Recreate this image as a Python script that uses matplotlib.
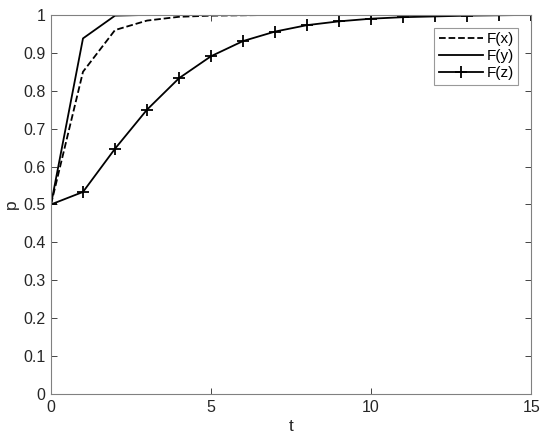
import matplotlib.pyplot as plt

plt.rcParams['font.family'] = ['Liberation Sans', 'DejaVu Sans']

# datos
t = list(range(16))
fx = [0.5, 0.85, 0.96, 0.985, 0.995, 0.998, 0.999, 1.0, 1.0, 1.0, 1.0, 1.0, 1.0, 1.0, 1.0, 1.0]
fy = [0.5, 0.938, 0.998, 1.0, 1.0, 1.0, 1.0, 1.0, 1.0, 1.0, 1.0, 1.0, 1.0, 1.0, 1.0, 1.0]
fz = [0.5, 0.533, 0.647, 0.75, 0.833, 0.891, 0.931, 0.956, 0.973, 0.983, 0.99, 0.994, 0.996, 0.998, 0.999, 1.0]

fig = plt.figure(figsize=(5.5, 4.46), dpi=100)
ax = fig.add_axes([0.0927, 0.1166, 0.873, 0.850])

ax.plot(t, fx, color='black', linestyle='--', linewidth=1.3, label='F(x)')
ax.plot(t, fy, color='black', linestyle='-', linewidth=1.3, label='F(y)')
ax.plot(t, fz, color='black', linestyle='-', linewidth=1.3, marker='+',
        markersize=8, markeredgewidth=1.3, label='F(z)')

ax.set_xlim(0, 15)
ax.set_ylim(0, 1)
ax.set_xticks([0, 5, 10, 15])
ax.set_yticks([i / 10 for i in range(11)])
ax.set_yticklabels(['0', '0.1', '0.2', '0.3', '0.4', '0.5', '0.6', '0.7', '0.8', '0.9', '1'])
ax.tick_params(direction='in', top=True, right=True, labelsize=11.5, colors='#262626',
               length=4, width=0.6, pad=4)
for s in ax.spines.values():
    s.set_color('#808080')
    s.set_linewidth(0.8)

ax.set_xlabel('t', fontsize=12.5, color='#262626', labelpad=3)
ax.set_ylabel('p', fontsize=12.5, color='#262626', labelpad=3)

leg = ax.legend(loc='upper right', bbox_to_anchor=(0.973, 0.966), fontsize=11,
                fancybox=False, edgecolor='#808080', handlelength=2.9,
                handletextpad=0.2, borderpad=0.3, labelspacing=0.2,
                borderaxespad=0.0)
leg.get_frame().set_linewidth(0.8)

plt.savefig('out.png', dpi=100)
